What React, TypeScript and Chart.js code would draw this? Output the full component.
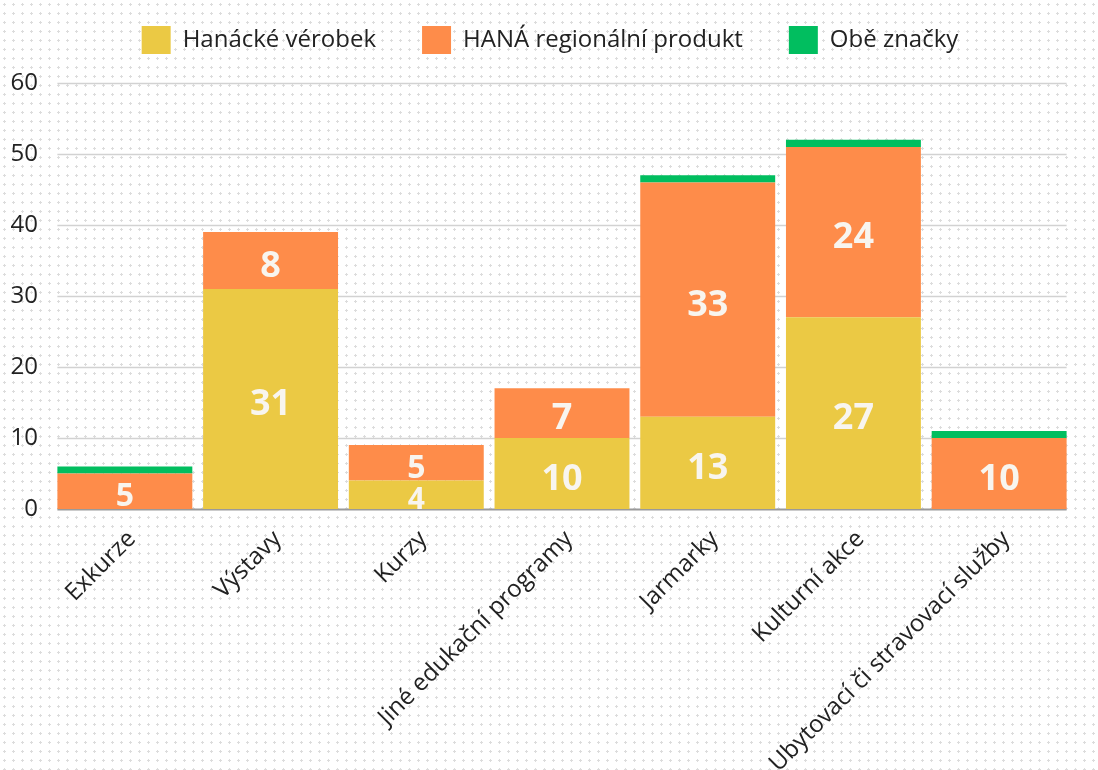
import { useEffect, useRef } from "react";
import { Chart, registerables } from "chart.js";

Chart.register(...registerables);

const categories = [
  "Exkurze",
  "Výstavy",
  "Kurzy",
  "Jiné edukační programy",
  "Jarmarky",
  "Kulturní akce",
  "Ubytovací či stravovací služby",
];
const hanackeValues = [0, 31, 4, 10, 13, 27, 0];
const hanaValues = [5, 8, 5, 7, 33, 24, 10];
const obeValues = [1, 0, 0, 0, 1, 1, 1];
const seriesNames = ["Hanácké vérobek", "HANÁ regionální produkt", "Obě značky"];
const yMax = 60;
const yStep = 10;

const FONT = "'Open Sans', 'Noto Sans', sans-serif";

const legendSpacePlugin = {
  id: "legendSpace",
  beforeInit(chart: any) {
    const legend = chart.legend;
    if (!legend) return;
    const origFit = legend.fit;
    legend.fit = function () {
      origFit.call(this);
      this.height += 19;
    };
  },
  afterLayout(chart: any) {
    const legend = chart.legend;
    if (!legend) return;
    legend.left = 10;
    legend.right = chart.width - 8;
  },
};

const gridPlugin = {
  id: "customGrid",
  beforeDatasetsDraw(chart: any) {
    const { ctx } = chart;
    const y = chart.scales.y;
    const first = chart.getDatasetMeta(1).data[0] as any;
    const last = chart.getDatasetMeta(1).data[categories.length - 1] as any;
    if (!first || !last) return;
    const left = first.x - first.width / 2;
    const right = last.x + last.width / 2;
    ctx.save();
    y.ticks.forEach((t: any) => {
      const py = Math.round(y.getPixelForValue(t.value)) + 0.5;
      ctx.beginPath();
      ctx.strokeStyle = t.value === 0 ? "#9a9a9a" : "#d2d2d2";
      ctx.lineWidth = t.value === 0 ? 2 : 1.5;
      ctx.moveTo(left, py);
      ctx.lineTo(right, py);
      ctx.stroke();
    });
    ctx.restore();
  },
};

const labelPlugin = {
  id: "segmentLabels",
  afterDatasetsDraw(chart: any) {
    const { ctx } = chart;
    ctx.save();
    ctx.textAlign = "center";
    ctx.textBaseline = "middle";
    ctx.fillStyle = "#f8f5ef";
    [0, 1].forEach((di) => {
      const meta = chart.getDatasetMeta(di);
      meta.data.forEach((bar: any, i: number) => {
        const v = chart.data.datasets[di].data[i] as number;
        if (!v) return;
        const top = Math.min(bar.y, bar.base);
        const h = Math.abs(bar.base - bar.y);
        const size = Math.round(Math.min(36, Math.max(30, h * 0.9)));
        ctx.font = `bold ${size}px ${FONT}`;
        ctx.fillText(String(v), bar.x, top + h / 2 + 6);
      });
    });
    ctx.restore();
  },
};

export default function App() {
  const ref = useRef<HTMLCanvasElement | null>(null);

  useEffect(() => {
    if (!ref.current) return;
    const chart = new Chart(ref.current, {
      type: "bar",
      data: {
        labels: categories,
        datasets: [
          { label: seriesNames[0], data: hanackeValues, backgroundColor: "#ebc944", borderWidth: 0 },
          { label: seriesNames[1], data: hanaValues, backgroundColor: "#fe8c4a", borderWidth: 0 },
          { label: seriesNames[2], data: obeValues, backgroundColor: "#01be5f", borderWidth: 0 },
        ],
      },
      options: {
        animation: false,
        responsive: false,
        maintainAspectRatio: false,
        layout: { padding: { top: -20, right: 26, left: 0, bottom: 0 } },
        datasets: { bar: { categoryPercentage: 1, barPercentage: 0.926 } },
        plugins: {
          legend: {
            position: "top",
            labels: {
              boxWidth: 29,
              boxHeight: 28,
              padding: 46,
              color: "#222",
              font: { family: FONT, size: 24 },
            },
          },
          tooltip: { enabled: false },
        },
        scales: {
          x: {
            stacked: true,
            grid: { display: false, drawTicks: false },
            border: { display: false },
            ticks: {
              minRotation: 45,
              maxRotation: 45,
              autoSkip: false,
              color: "#222",
              padding: 16,
              labelOffset: 7,
              font: { family: FONT, size: 24 },
            },
            afterFit: (scale: any) => {
              scale.height = 261;
            },
          },
          y: {
            stacked: true,
            min: 0,
            max: yMax,
            grid: { display: false, drawTicks: false },
            border: { display: false },
            ticks: {
              stepSize: yStep,
              color: "#222",
              padding: 14,
              font: { family: FONT, size: 24 },
            },
            afterFit: (scale: any) => {
              scale.width = 52;
            },
          },
        },
      },
      plugins: [legendSpacePlugin, gridPlugin, labelPlugin],
    });
    return () => chart.destroy();
  }, []);

  return (
    <div
      style={{
        position: "fixed",
        left: 0,
        top: 0,
        width: 1098,
        height: 770,
        overflow: "hidden",
        background: "#fff",
        backgroundImage: "radial-gradient(circle, #dcdcdc 1px, transparent 1.3px)",
        backgroundSize: "9px 9px",
      }}
    >
      <canvas ref={ref} width={1098} height={770} style={{ display: "block" }} />
    </div>
  );
}
